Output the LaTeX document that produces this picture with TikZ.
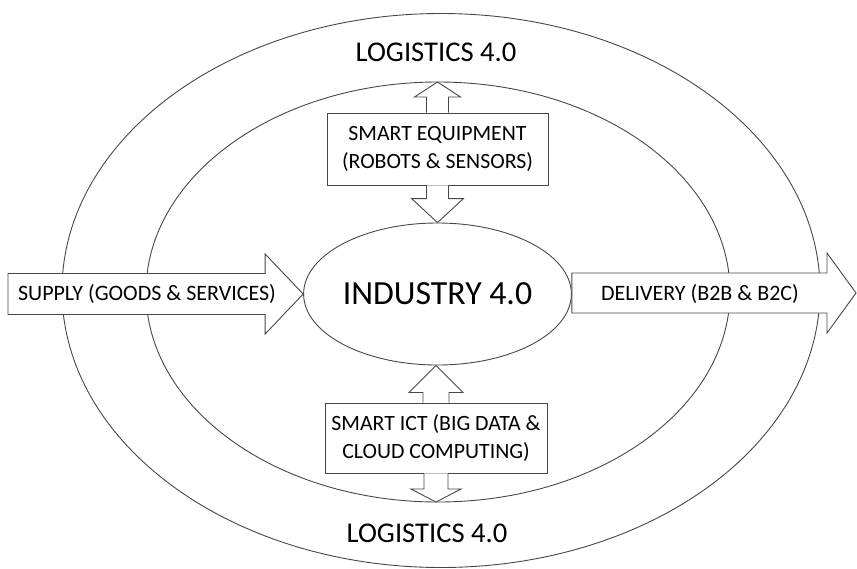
\documentclass[tikz,border=0pt]{standalone}
\usepackage{fontspec}
\setmainfont{Carlito}
\usetikzlibrary{calc,shapes.geometric}

\tikzset{
  ring/.style={draw=black!72, line width=0.9pt},
  blockline/.style={draw=black!72, line width=0.9pt, fill=white, line join=miter},
  boxnode/.style={draw=black!72, line width=0.9pt, fill=white, rectangle, inner sep=0pt,
    align=center, font=\fontsize{21.8}{28.5}\selectfont},
  label/.style={font=\fontsize{22}{26}\selectfont, inner sep=0pt},
  biglabel/.style={font=\fontsize{28.6}{32}\selectfont, inner sep=0pt},
}

% vertical block arrow: #1 base point, #2 point giving the tip height,
% #3 half shaft width, #4 half head width, #5 signed head length (canvas y)
\newcommand\vblockarrow[5]{%
  \draw[blockline] let \p1=(#1), \p2=(#2) in
    (\x1-#3,\y1) -- (\x1-#3,\y2+#5) -- (\x1-#4,\y2+#5) -- (\x1,\y2)
    -- (\x1+#4,\y2+#5) -- (\x1+#3,\y2+#5) -- (\x1+#3,\y1);}

% horizontal block arrow: #1 tail point, #2 tip point,
% #3 half shaft width, #4 half head width, #5 head length
\newcommand\hblockarrow[5]{%
  \draw[blockline] let \p1=(#1), \p2=(#2) in
    (\x1,\y2+#3) -- (\x2-#5,\y2+#3) -- (\x2-#5,\y2+#4) -- (\x2,\y2)
    -- (\x2-#5,\y2-#4) -- (\x2-#5,\y2-#3) -- (\x1,\y2-#3) -- cycle;}

\begin{document}
\begin{tikzpicture}[x=1pt,y=-1pt]
  \useasboundingbox (0,0) rectangle (857,568);

  % logistics rings
  \draw[ring] (441,290.5) ellipse [x radius=379, y radius=277];
  \draw[ring] (438,292) ellipse [x radius=292, y radius=210];
  \coordinate (innertop) at (438,82);
  \coordinate (innerbottom) at (438,502);

  % core
  \node[ellipse, draw=black!72, line width=0.9pt, fill=white,
        minimum width=221pt, minimum height=142pt, inner sep=0pt,
        font=\fontsize{33.8}{36}\selectfont] (ind) at (437.5,294) {INDUSTRY 4.0};

  % smart equipment and smart ICT
  \node[boxnode, minimum width=221pt, minimum height=72pt] (equip) at (437.5,149)
    {SMART EQUIPMENT\\(ROBOTS \& SENSORS)};
  \node[boxnode, minimum width=222pt, minimum height=70pt] (ict) at (436,438)
    {SMART ICT (BIG DATA \&\\CLOUD COMPUTING)};

  \vblockarrow{equip.north}{innertop}{11pt}{23pt}{-15pt}
  \vblockarrow{equip.south}{ind.north}{11pt}{26pt}{24pt}
  \vblockarrow{ict.north}{ind.south}{13pt}{27pt}{-27pt}
  \vblockarrow{ict.south}{innerbottom}{12pt}{25pt}{13pt}

  % supply and delivery flows
  \coordinate (supplytail) at (8,293);
  \coordinate (deliverytip) at (856,293);
  \hblockarrow{supplytail}{ind.west}{20.5pt}{40pt}{38pt}
  \hblockarrow{ind.east}{deliverytip}{20pt}{40pt}{29pt}

  \node[label] (supply) at (147,294) {SUPPLY (GOODS \& SERVICES)};
  \node[label] (delivery) at (700,294) {DELIVERY (B2B \& B2C)};

  % logistics titles
  \node[biglabel] (logtop) at (436,52) {LOGISTICS 4.0};
  \node[biglabel] (logbottom) at (427,533) {LOGISTICS 4.0};
\end{tikzpicture}
\end{document}
